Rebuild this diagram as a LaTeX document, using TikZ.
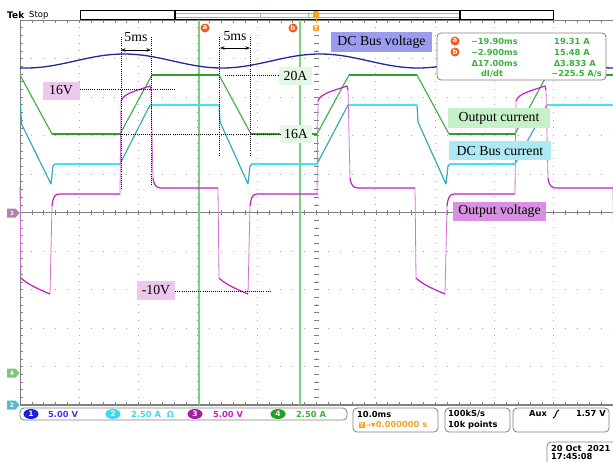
\documentclass[tikz,border=0pt]{standalone}
\usepackage{fontspec}
\setmainfont{Liberation Serif}
\newfontfamily\tekfont{DejaVu Sans}
\usetikzlibrary{arrows.meta,shapes.geometric}
\definecolor{gridc}{HTML}{A8A8A8}
\definecolor{framec}{HTML}{808080}
\definecolor{bluewave}{HTML}{22289A}
\definecolor{bluelbl}{HTML}{9C9CEE}
\definecolor{chonefill}{HTML}{1E1EE0}
\definecolor{chonetext}{HTML}{3A3AF0}
\definecolor{cyanflat}{HTML}{40E4F2}
\definecolor{cyanslope}{HTML}{38AABB}
\definecolor{cyanlbl}{HTML}{AEE8F2}
\definecolor{chtwofill}{HTML}{40D8E8}
\definecolor{magwave}{HTML}{C420C4}
\definecolor{magedge}{HTML}{D870D8}
\definecolor{maglbl}{HTML}{D890E0}
\definecolor{maglight}{HTML}{ECC8EC}
\definecolor{chthreefill}{HTML}{A020A0}
\definecolor{mkthree}{HTML}{B080B0}
\definecolor{greenwave}{HTML}{2E9E2E}
\definecolor{greenslope}{HTML}{4CB04C}
\definecolor{greenlbl}{HTML}{C8F0C8}
\definecolor{greenlight}{HTML}{E4F6E4}
\definecolor{chfourfill}{HTML}{22A022}
\definecolor{cursorc}{HTML}{7CCF7C}
\definecolor{cursmark}{HTML}{F05A1E}
\definecolor{trig}{HTML}{F5A020}
\definecolor{rogreen}{HTML}{3CB03C}
\begin{document}
\begin{tikzpicture}[x=1pt,y=-1pt,
  lbl/.style={font=\fontsize{13.8}{14}\selectfont, inner sep=0pt, anchor=center},
  ro/.style={font=\tekfont\bfseries\fontsize{8.3}{9}\selectfont, inner sep=0pt},
  rosmall/.style={font=\tekfont\bfseries\fontsize{6}{7}\selectfont, inner sep=0pt},
  gridv/.style={draw=gridc, line width=0.9pt, dash pattern=on 0.9pt off 6.8pt, dash phase=0.45pt},
  gridh/.style={draw=gridc, line width=0.9pt, dash pattern=on 0.9pt off 10.96pt, dash phase=0.45pt},
  annot/.style={black, line width=0.9pt, dash pattern=on 0.9pt off 1.2pt},
  wave/.style={line width=1.2pt, line join=round},
  boxr/.style={draw=framec, line width=0.8pt, rounded corners=4pt, fill=white},
  cmark/.style={circle, fill=cursmark, text=white, inner sep=0pt, minimum size=9pt, font=\tekfont\bfseries\fontsize{7}{7}\selectfont},
  oval/.style={ellipse, inner sep=0pt, minimum width=15pt, minimum height=10pt, text=white, font=\tekfont\bfseries\fontsize{7.5}{8}\selectfont}
]
\useasboundingbox (0,0) rectangle (613,461);
\fill[white] (0,0) rectangle (613,461);

% ---------- graticule ----------
\foreach \k in {1,...,9} {
  \draw[gridv] (20+59.3*\k,20) -- (20+59.3*\k,405);
  \draw[gridh] (20,20+38.5*\k) -- (613,20+38.5*\k);
}
\draw[framec, line width=0.8pt] (20,20) -- (613,20);
\draw[framec, line width=0.8pt] (20,20) -- (20,405);
\draw[framec, line width=1.2pt] (20,405) -- (613,405);
\draw[framec, line width=0.8pt] (20,212.5) -- (613,212.5);
\foreach \i in {1,...,49} {
  \draw[framec, line width=0.6pt] (20+11.86*\i,20) -- (20+11.86*\i,23);
  \draw[framec, line width=0.6pt] (20+11.86*\i,405) -- (20+11.86*\i,402);
  \draw[framec, line width=0.6pt] (20+11.86*\i,210) -- (20+11.86*\i,215);
  \draw[framec, line width=0.6pt] (20,20+7.7*\i) -- (23,20+7.7*\i);
  \draw[framec, line width=0.6pt] (314,20+7.7*\i) -- (319,20+7.7*\i);
}

% ---------- record bar ----------
\draw[black, line width=0.8pt] (80,10) rectangle (553,19);
\draw[cursorc, line width=0.8pt] (176,13) -- (459,13);
\draw[cursorc, line width=0.8pt] (176,17) -- (459,17);
\draw[cursorc, line width=0.8pt] (260,13) -- (260,17);
\draw[cursorc, line width=0.8pt] (308,13) -- (308,17);
\draw[black, line width=1.2pt] (175,10) -- (175,19);
\draw[black, line width=1.2pt] (460,10) -- (460,19);
\node[anchor=west, inner sep=0pt, font=\tekfont\bfseries\fontsize{9}{9}\selectfont] (tek) at (7,15) {Tek};
\node[anchor=west, inner sep=0pt, font=\tekfont\fontsize{8.5}{9}\selectfont] (stop) at (29,15) {Stop};

% ---------- cursors ----------
\draw[cursorc, line width=1.3pt] (199,20) -- (199,405);
\draw[cursorc, line width=1.3pt] (300,20) -- (300,405);
\node[cmark] (ca) at (205,28) {a};
\node[cmark] (cb) at (293,28) {b};
% trigger marker
\fill[trig, rounded corners=1pt] (313,11) rectangle (319,18);
\draw[trig, line width=1pt] (316,18) -- (316,23);
\node[fill=trig, text=white, rounded corners=1pt, inner sep=1pt, font=\tekfont\bfseries\fontsize{6}{6}\selectfont] (tmark) at (316,28) {T};

\begin{scope}
\clip (19.5,20) rectangle (613,405);
% ---------- ch1 DC bus voltage ----------
\draw[bluewave, line width=1.3pt] plot[domain=20:613, samples=150, smooth] (\x,{61+7*cos(1.837*(\x-222))});
% ---------- ch4 output current ----------
\draw[greenslope, wave] (20,75) -- (52,134) (120,134) -- (152,75) (219,75) -- (251,134) (317,134) -- (349,75) (417,75) -- (449,134) (515,134) -- (547,75);
\draw[greenwave, line width=1.5pt] (52,134) -- (120,134) (152,75) -- (219,75) (251,134) -- (317,134) (349,75) -- (417,75) (449,134) -- (515,134) (547,75) -- (613,75);
% ---------- ch2 DC bus current ----------
\draw[cyanslope, wave] (20.5,103) -- (21.5,124) -- (51,184) -- (53,166) -- (55,164)
  (120,164) -- (150,105) (219,105) -- (220,122) -- (248,184) -- (250,166) -- (252,164)
  (317,164) -- (348,105) (417,105) -- (418,122) -- (446,184) -- (448,166) -- (450,164)
  (515,164) -- (547,105);
\draw[cyanflat, wave] (55,164) -- (120,164) (150,105) -- (219,105) (252,164) -- (317,164)
  (348,105) -- (417,105) (450,164) -- (515,164) (547,105) -- (613,105);
% ---------- ch3 output voltage ----------
\foreach \o in {-78,120,317,515} {
  \draw[magedge, line width=0.8pt] (\o,194) -- (\o+1,101) (\o+31,90) -- (\o+33,178)
    (\o+98,188) -- (\o+99,278) (\o+128,294) -- (\o+130,206);
  \draw[magwave, wave] (\o+1,101) .. controls (\o+4,93) and (\o+16,91) .. (\o+30,86) -- (\o+31,90);
  \draw[magwave, wave] (\o+33,178) .. controls (\o+34,186) and (\o+37,188) .. (\o+41,188) -- (\o+98,188);
  \draw[magwave, wave] (\o+99,278) .. controls (\o+105,284) and (\o+116,289) .. (\o+128,294);
  \draw[magwave, wave] (\o+130,206) .. controls (\o+131,197) and (\o+133,194) .. (\o+137,194) -- (\o+198,194);
}
\end{scope}

% ---------- annotations ----------
\coordinate (pa1) at (121,37); \coordinate (pa2) at (121,190);
\coordinate (pb1) at (151,37); \coordinate (pb2) at (151,185);
\coordinate (pc1) at (219,37); \coordinate (pc2) at (219,155);
\coordinate (pd1) at (250,37); \coordinate (pd2) at (250,155);
\draw[annot] (pa1) -- (pa2);
\draw[annot] (pb1) -- (pb2);
\draw[annot] (pc1) -- (pc2);
\draw[annot] (pd1) -- (pd2);
\coordinate (aa1) at (121,50); \coordinate (aa2) at (151,50);
\coordinate (ab1) at (220,48); \coordinate (ab2) at (250,48);
\draw[{Stealth[length=4.5pt,width=3.5pt]}-{Stealth[length=4.5pt,width=3.5pt]}, line width=0.8pt] (aa1) -- (aa2);
\draw[{Stealth[length=4.5pt,width=3.5pt]}-{Stealth[length=4.5pt,width=3.5pt]}, line width=0.8pt] (ab1) -- (ab2);
\node[lbl, fill=white] (fivea) at (136,37) {5ms};
\node[lbl, fill=white] (fiveb) at (235,36) {5ms};

\node[lbl, fill=maglight, minimum width=37pt, minimum height=18pt] (v16) at (61,90.5) {16V};
\coordinate (v16e) at (175,89);
\draw[annot] (v16.east |- v16e) -- (v16e);
\node[lbl, fill=greenlight, minimum width=33pt, minimum height=18pt] (a20) at (295.5,76) {20A};
\coordinate (a20s) at (225,75);
\draw[annot] (a20s) -- (a20.west |- a20s);
\node[lbl, fill=greenlight, minimum width=32pt, minimum height=18pt] (a16) at (296,134) {16A};
\coordinate (a16s) at (120,134);
\draw[annot] (a16s) -- (a16.west |- a16s);
\node[lbl, fill=maglight, minimum width=38pt, minimum height=19pt] (vm10) at (156,290.5) {-10V};
\coordinate (vm10e) at (270,291);
\draw[annot] (vm10.east |- vm10e) -- (vm10e);

\node[lbl, fill=bluelbl, minimum width=101pt, minimum height=20pt] (dcv) at (381.5,42) {DC Bus voltage};
\node[lbl, fill=greenlbl, minimum width=102pt, minimum height=20pt] (oc) at (499,118) {Output current};
\node[lbl, fill=cyanlbl, minimum width=102pt, minimum height=19pt] (dcc) at (500,150.5) {DC Bus current};
\node[lbl, fill=maglbl, minimum width=93pt, minimum height=19pt] (ov) at (499.5,211.5) {Output voltage};

% ---------- cursor readout ----------
\draw[boxr] (437,33) rectangle (606,80);
\node[cmark] (ra) at (455,41) {a};
\node[cmark] (rb) at (455,52) {b};
\node[ro, text=rogreen, anchor=east] (r1) at (518,41) {−19.90ms};
\node[ro, text=rogreen, anchor=east] (r2) at (518,52) {−2.900ms};
\node[ro, text=rogreen, anchor=east] (r3) at (518,63) {Δ17.00ms};
\node[ro, text=rogreen] (r4) at (492,74) {dI/dt};
\node[ro, text=rogreen, anchor=east] (r5) at (590,41) {19.31 A};
\node[ro, text=rogreen, anchor=east] (r6) at (590,52) {15.48 A};
\node[ro, text=rogreen, anchor=east] (r7) at (596,63) {Δ3.833 A};
\node[ro, text=rogreen, anchor=east] (r8) at (602,74) {−225.5 A/s};

% ---------- left channel markers ----------
\fill[mkthree] (7,208.5) -- (15.5,208.5) -- (19.5,213) -- (15.5,217.5) -- (7,217.5) -- cycle;
\node[rosmall, text=white!85!mkthree] (mk3) at (12,213) {3};
\fill[chfourfill!60!white] (7,368.5) -- (15.5,368.5) -- (19.5,373) -- (15.5,377.5) -- (7,377.5) -- cycle;
\node[rosmall, text=white] (mk4) at (12,373) {4};
\fill[chtwofill!70!gray] (7,400.5) -- (15.5,400.5) -- (19.5,405) -- (15.5,409.5) -- (7,409.5) -- cycle;
\node[rosmall, text=white] (mk2) at (12,405) {2};

% ---------- bottom readouts ----------
\draw[boxr] (20,408) rectangle (347,420);
\node[oval, fill=chonefill] (o1) at (31,414) {1};
\node[ro, text=chonetext, anchor=west] (t1) at (48,414) {5.00 V};
\node[oval, fill=chtwofill] (o2) at (113,414) {2};
\node[ro, text=chtwofill, anchor=west] (t2) at (131,414) {2.50 A \ Ω};
\node[oval, fill=chthreefill] (o3) at (195,414) {3};
\node[ro, text=magwave, anchor=west] (t3) at (213,414) {5.00 V};
\node[oval, fill=chfourfill] (o4) at (278,414) {4};
\node[ro, text=rogreen, anchor=west] (t4) at (296,414) {2.50 A};

\draw[boxr] (353,408) rectangle (438,432);
\node[ro, anchor=west] (tb1) at (357,414) {10.0ms};
\node[fill=trig, text=white, inner sep=0.8pt, rounded corners=0.5pt, font=\tekfont\bfseries\fontsize{6}{6}\selectfont] (tb2) at (362,425) {T};
\node[ro, text=trig, anchor=west] (tb3) at (366,425) {\fontsize{6}{6}\selectfont→▼\fontsize{8.3}{9}\selectfont 0.000000 s};

\draw[boxr] (445,408) rectangle (510,432);
\node[ro, anchor=west] (sb1) at (448,414) {100kS/s};
\node[ro, anchor=west] (sb2) at (448,425) {10k points};

\draw[boxr] (513,408) rectangle (609,432);
\node[ro, anchor=west] (aux) at (529,414) {Aux};
\draw[black, line width=1pt] (553,418) .. controls (556,418) and (556,410) .. (559,410);
\node[ro, anchor=east] (auxv) at (606,414) {1.57 V};

\draw[boxr] (547,442) rectangle (625,475);
\node[ro, anchor=west] (d1) at (551,448.5) {20 Oct \ 2021};
\node[ro, anchor=west] (d2) at (551,456.5) {17:45:08};
\end{tikzpicture}
\end{document}
